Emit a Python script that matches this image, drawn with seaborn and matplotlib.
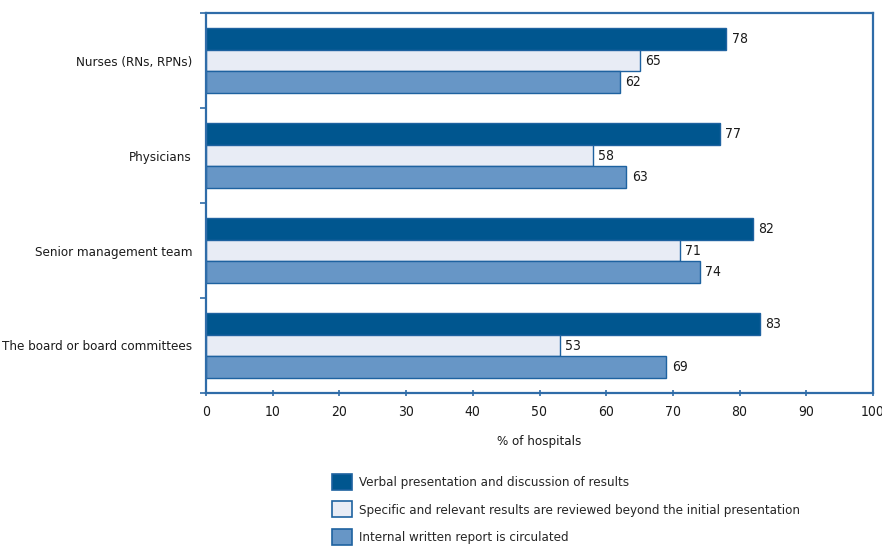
import matplotlib
matplotlib.use("Agg")
import matplotlib.pyplot as plt
import seaborn as sns
import pandas as pd
from matplotlib.patches import Patch

categories = ["Nurses (RNs, RPNs)", "Physicians", "Senior management team", "The board or board committees"]
series_names = [
    "Verbal presentation and discussion of results",
    "Specific and relevant results are reviewed beyond the initial presentation",
    "Internal written report is circulated",
]
verbal = [78, 77, 82, 83]
specific = [65, 58, 71, 53]
written = [62, 63, 74, 69]
x_ticks = [0, 10, 20, 30, 40, 50, 60, 70, 80, 90, 100]

colors = ["#00568F", "#E8ECF5", "#6796C6"]
edge = "#1E62A0"
frame = "#2F6CA8"
txt = "#1a1a1a"

sns.set_theme(style="white")
plt.rcParams["font.family"] = ["DejaVu Sans"]
plt.rcParams["font.stretch"] = "condensed"

FS = 9.5

rows = []
for name, vals in zip(series_names, [verbal, specific, written]):
    for c, v in zip(categories, vals):
        rows.append({"category": c, "series": name, "value": v})
df = pd.DataFrame(rows)

fig = plt.figure(figsize=(8.82, 5.52), dpi=100)
ax = fig.add_axes([206 / 882, 1 - 393 / 552, (873 - 206) / 882, (393 - 13) / 552])

sns.barplot(data=df, y="category", x="value", hue="series", order=categories,
            hue_order=series_names, palette=colors, orient="h", width=0.68,
            edgecolor=edge, linewidth=1.0, ax=ax, legend=False, saturation=1)

for cont in ax.containers:
    ax.bar_label(cont, fmt="%d", padding=4, fontsize=FS + 0.5, color=txt)

ax.set_xlim(0, 100)
ax.set_ylim(3.5, -0.5)
ax.set_xticks(x_ticks)
ax.set_xticklabels([str(t) for t in x_ticks], fontsize=FS + 0.5, color=txt)
ax.set_yticks(range(len(categories)))
ax.set_yticklabels(categories, fontsize=FS, color=txt)
ax.set_yticks([-0.5, 0.5, 1.5, 2.5, 3.5], minor=True)
ax.tick_params(axis="y", which="major", length=0, pad=10)
ax.tick_params(axis="y", which="minor", length=4, width=1.2, color=frame, direction="out", left=True)
ax.tick_params(axis="x", which="major", length=4, width=1.2, color=frame, direction="inout", bottom=True, pad=7)
ax.set_xlabel("% of hospitals", fontsize=FS, color=txt, labelpad=11)
ax.set_ylabel("")

for s in ax.spines.values():
    s.set_visible(True)
    s.set_color(frame)
    s.set_linewidth(1.6)

handles = [Patch(facecolor=c, edgecolor=edge, linewidth=1.2) for c in colors]
fig.legend(handles, series_names, loc="upper left", bbox_to_anchor=(332 / 882, 1 - 474 / 552),
           frameon=False, fontsize=FS, handlelength=1.5, handleheight=1.5,
           handletextpad=0.55, labelspacing=0.85, borderaxespad=0, borderpad=0)

fig.savefig("out.png", dpi=100)
